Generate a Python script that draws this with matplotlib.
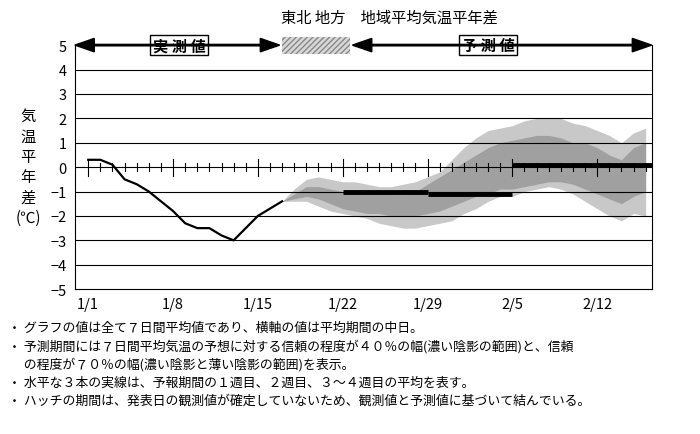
import matplotlib
matplotlib.use("Agg")
import matplotlib.pyplot as plt
import numpy as np
from matplotlib.patches import Rectangle, FancyArrow

plt.rcParams['font.family'] = ['Noto Sans CJK JP', 'DejaVu Sans']

# days since 1/1
obs_days = [0, 1, 2, 3, 4, 5, 6, 7, 8, 9, 10, 11, 12, 13, 14, 15, 16]
obs_vals = [0.3, 0.3, 0.1, -0.5, -0.7, -1.0, -1.4, -1.8, -2.3, -2.5, -2.5, -2.8, -3.0, -2.5, -2.0, -1.7, -1.4]

fc_days = list(range(16, 47))
light_up = [-1.4, -0.9, -0.5, -0.4, -0.5, -0.6, -0.6, -0.7, -0.8, -0.8, -0.7, -0.6, -0.4, -0.2, 0.3, 0.8,
            1.2, 1.5, 1.6, 1.7, 1.9, 2.0, 2.0, 2.0, 1.8, 1.7, 1.5, 1.3, 1.0, 1.4, 1.6]
dark_up = [-1.4, -1.1, -0.8, -0.8, -0.9, -1.0, -1.0, -1.0, -1.0, -1.1, -1.1, -1.0, -0.7, -0.4, -0.1, 0.2,
           0.5, 0.8, 1.0, 1.1, 1.2, 1.3, 1.3, 1.2, 1.0, 1.0, 0.8, 0.5, 0.3, 0.8, 1.0]
dark_lo = [-1.4, -1.3, -1.2, -1.3, -1.5, -1.7, -1.8, -1.9, -1.9, -2.0, -2.0, -2.0, -1.9, -1.8, -1.6, -1.4,
           -1.2, -1.1, -0.9, -0.9, -0.8, -0.7, -0.6, -0.6, -0.7, -0.9, -1.1, -1.3, -1.5, -1.2, -1.0]
light_lo = [-1.4, -1.4, -1.4, -1.6, -1.8, -1.9, -2.0, -2.1, -2.3, -2.4, -2.5, -2.5, -2.4, -2.3, -2.2, -1.9,
            -1.7, -1.4, -1.2, -1.2, -1.0, -0.9, -0.8, -0.9, -1.1, -1.4, -1.7, -2.0, -2.2, -1.9, -2.0]

# weekly means: start, end, value
week_means = [(21, 28, -1.0), (28, 35, -1.1), (35, 46.5, 0.1)]

tick_days = [0, 7, 14, 21, 28, 35, 42]
tick_labels = ['1/1', '1/8', '1/15', '1/22', '1/29', '2/5', '2/12']

xmin, xmax = -1.1, 46.5

fig = plt.figure(figsize=(7, 4.35), dpi=100)
ax = fig.add_axes([0.107, 0.333, 0.824, 0.561])
ax.set_xlim(xmin, xmax)
ax.set_ylim(-5, 5)

ax.fill_between(fc_days, light_lo, light_up, color='#c8c8c8', lw=0)
ax.fill_between(fc_days, dark_lo, dark_up, color='#a0a0a0', lw=0)

for v in range(-4, 5):
    ax.axhline(v, color='black', lw=0.8, zorder=2)

# zero line ticks
for d in range(0, 47):
    h = 0.35 if d % 7 == 0 else 0.15
    ax.plot([d, d], [-h, h], color='black', lw=0.8, zorder=2)

ax.plot(obs_days, obs_vals, color='black', lw=1.6, zorder=3)
for s, e, v in week_means:
    ax.plot([s, e], [v, v], color='black', lw=3.5, solid_capstyle='butt', zorder=4)

ax.set_yticks(range(-5, 6))
ax.set_xticks(tick_days)
ax.set_xticklabels(tick_labels)
ax.tick_params(length=0, labelsize=10.5, pad=6)
ax.spines['top'].set_visible(False)

# top arrows
ax.plot([xmin, xmin], [4.85, 5], color='black', lw=0.8, clip_on=False)
kw = dict(width=0.06, head_width=0.55, head_length=1.6, length_includes_head=True,
          color='black', clip_on=False, zorder=5)
ax.add_patch(FancyArrow(7.5, 5, xmin - 7.5, 0, **kw))
ax.add_patch(FancyArrow(7.5, 5, 15.8 - 7.5, 0, **kw))
ax.add_patch(FancyArrow(33, 5, 21.8 - 33, 0, **kw))
ax.add_patch(FancyArrow(33, 5, xmax - 33, 0, **kw))
ax.add_patch(Rectangle((16.0, 4.65), 5.6, 0.7, facecolor='#d8d8d8', edgecolor='#888888',
                       hatch='//////', lw=0, clip_on=False))
box = dict(boxstyle='square,pad=0.15', fc='white', ec='black', lw=1)
ax.text(7.5, 5, '実 測 値', ha='center', va='center', fontsize=11, fontweight='bold', bbox=box)
ax.text(33, 5, '予 測 値', ha='center', va='center', fontsize=11, fontweight='bold', bbox=box)

fig.text(0.557, 0.958, '東北 地方　地域平均気温平年差', ha='center', va='center', fontsize=11)
fig.text(0.04, 0.615, '気\n温\n平\n年\n差\n(℃)', ha='center', va='center', fontsize=11, linespacing=1.25)

notes = ['・ グラフの値は全て７日間平均値であり、横軸の値は平均期間の中日。',
         '・ 予測期間には７日間平均気温の予想に対する信頼の程度が４０％の幅(濃い陰影の範囲)と、信頼',
         '　 の程度が７０％の幅(濃い陰影と薄い陰影の範囲)を表示。',
         '・ 水平な３本の実線は、予報期間の１週目、２週目、３～４週目の平均を表す。',
         '・ ハッチの期間は、発表日の観測値が確定していないため、観測値と予測値に基づいて結んでいる。']
for i, t in enumerate(notes):
    fig.text(0.012, 0.245 - i * 0.042, t, fontsize=9.3, va='center')

fig.savefig('out.png', dpi=100)
